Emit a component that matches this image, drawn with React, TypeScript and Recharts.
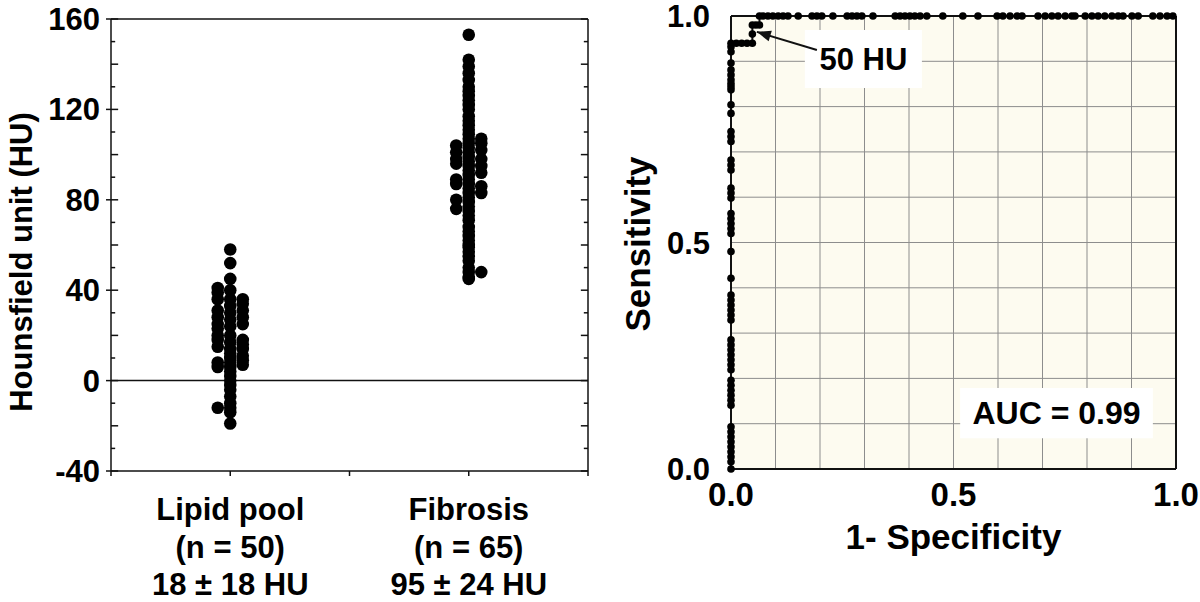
import React from 'react';
import {
  ScatterChart,
  Scatter,
  LineChart,
  Line,
  XAxis,
  YAxis,
  CartesianGrid,
  ReferenceLine,
  ReferenceArea,
  ReferenceDot,
} from 'recharts';

const FONT = '"Liberation Sans", Arial, Helvetica, sans-serif';
const INK = '#111';

// ---- left panel: CT numbers of lipid pool vs fibrosis ----
const groupPositions = [1, 3];
const groupNames = ['Lipid pool', 'Fibrosis'];
const groupCounts = ['(n = 50)', '(n = 65)'];
const groupMeans = ['18 ± 18 HU', '95 ± 24 HU'];
const groupAxisTicks = [0, 1, 2, 3, 4];

// each strip is drawn as a middle column plus a column on either side
const lipidMid = [58, 52, 45, 40, 36, 33, 30, 27, 24, 20, 17, 14, 12, 10, 8, 6, 4, 2, 0, -2, -4, -7, -10, -12, -14, -19];
const lipidLeft = [41, 39, 36, 31, 28, 25, 23, 20, 18, 15, 8, 6, -12];
const lipidRight = [36, 34, 31, 28, 25, 18, 16, 14, 11, 9, 7];

const fibrosisMid = [
  153, 142, 139, 136, 133, 130, 128, 126, 124, 122, 120, 117, 115, 113, 111, 109,
  107, 105, 103, 101, 99, 97, 95, 93, 91, 89, 87, 85, 83, 81, 79, 77,
  75, 73, 71, 68, 66, 64, 62, 60, 59, 57, 55, 53, 50, 48, 46, 45,
];
const fibrosisLeft = [104, 101, 98, 96, 89, 87, 80, 76];
const fibrosisRight = [107, 105, 102, 98, 95, 92, 86, 83, 48];

const huTicks = [-40, 0, 40, 80, 120, 160];
const huMinorTicks = [-30, -20, -10, 10, 20, 30, 50, 60, 70, 90, 100, 110, 130, 140, 150, -40, 0, 40, 80, 120, 160];

const STRIP_SHIFT = 0.105;

const column = (values: number[], x: number) => values.map((hu) => ({ x, hu }));

const lipidData = [
  ...column(lipidMid, groupPositions[0]),
  ...column(lipidLeft, groupPositions[0] - STRIP_SHIFT),
  ...column(lipidRight, groupPositions[0] + STRIP_SHIFT),
];
const fibrosisData = [
  ...column(fibrosisMid, groupPositions[1]),
  ...column(fibrosisLeft, groupPositions[1] - STRIP_SHIFT),
  ...column(fibrosisRight, groupPositions[1] + STRIP_SHIFT),
];

// ---- right panel: ROC curve ----
const rocEdgeTpr = [
  0, 0.016, 0.027, 0.038, 0.049, 0.06, 0.071, 0.082, 0.093, 0.141, 0.152, 0.163, 0.174, 0.185,
  0.196, 0.219, 0.23, 0.241, 0.252, 0.263, 0.274, 0.285, 0.329, 0.34, 0.351, 0.362, 0.373, 0.384,
  0.421, 0.48, 0.52, 0.531, 0.542, 0.553, 0.564, 0.598, 0.609, 0.62, 0.66, 0.671, 0.682, 0.723,
  0.734, 0.745, 0.785, 0.804, 0.837, 0.844, 0.851, 0.859, 0.87, 0.881, 0.896, 0.921, 0.932, 0.94,
];
const rocStepFpr = [0.012, 0.024, 0.036, 0.048, 0.048, 0.048, 0.056, 0.064];
const rocStepTpr = [0.94, 0.94, 0.94, 0.94, 0.96, 0.98, 0.98, 0.98];
const rocTopFpr = [
  0.064, 0.072, 0.083, 0.094, 0.106, 0.117, 0.128, 0.151, 0.182, 0.193, 0.204, 0.229, 0.261,
  0.272, 0.283, 0.294, 0.319, 0.369, 0.38, 0.391, 0.402, 0.413, 0.425, 0.44, 0.476, 0.521, 0.555,
  0.598, 0.611, 0.627, 0.643, 0.654, 0.69, 0.706, 0.721, 0.735, 0.751, 0.766, 0.773, 0.796,
  0.811, 0.825, 0.84, 0.856, 0.87, 0.881, 0.901, 0.915, 0.948, 0.964, 0.98, 0.993,
];

const rocData = [
  ...rocEdgeTpr.map((tpr) => ({ fpr: 0, tpr })),
  ...rocStepFpr.map((fpr, i) => ({ fpr, tpr: rocStepTpr[i] })),
  ...rocTopFpr.map((fpr) => ({ fpr, tpr: 1 })),
];

const rateTicks = [0, 0.1, 0.2, 0.3, 0.4, 0.5, 0.6, 0.7, 0.8, 0.9, 1];
const rateLabelTicks = [0, 0.5, 1];
const fmtRate = (v: number) => (rateLabelTicks.includes(v) ? v.toFixed(1) : '');

const cutoffText = '50 HU';
const aucText = 'AUC = 0.99';
const cutoffPoint = { x: 0.058, y: 0.965 };
const cutoffTail = { x: 0.193, y: 0.925 };

const boldText = { fill: '#000', fontWeight: 700, fontFamily: FONT };

const dotShape = (p: any) => <circle cx={p.cx} cy={p.cy} r={6.3} fill="#000" />;

const renderGroupTick = (props: any) => {
  const { x, y, payload } = props;
  const i = groupPositions.indexOf(payload.value);
  if (i < 0) return <g />;
  const lines = [groupNames[i], groupCounts[i], groupMeans[i]];
  return (
    <g>
      {lines.map((t, k) => (
        <text key={k} x={x} y={y + 44 + k * 37.5} textAnchor="middle" fontSize={31} {...boldText}>
          {t}
        </text>
      ))}
    </g>
  );
};

// arrow head pointing from the label toward the 50 HU point
const arrowHead = (p: any) => (
  <polygon
    points="0,0 -14,-5.5 -14,5.5"
    fill={INK}
    transform={`translate(${p.cx},${p.cy}) rotate(196.8)`}
  />
);

const tickLen = (v: number) => (v % 20 === 0 ? 0.06 : 0.035);

export default function App() {
  return (
    <div style={{ position: 'absolute', left: 0, top: 0, width: 1200, height: 602, background: '#fff', fontFamily: FONT }}>
      <div style={{ position: 'absolute', left: 0, top: 0 }}>
        <ScatterChart width={600} height={602} margin={{ top: 19, right: 12, bottom: 0, left: 0 }}>
          <XAxis
            dataKey="x"
            type="number"
            domain={[0, 4]}
            ticks={groupAxisTicks}
            interval={0}
            height={131}
            tickSize={5}
            tickMargin={0}
            tick={renderGroupTick}
            axisLine={{ stroke: INK, strokeWidth: 1.5 }}
            tickLine={{ stroke: INK, strokeWidth: 1.5 }}
          />
          <YAxis
            dataKey="hu"
            type="number"
            domain={[-40, 160]}
            ticks={huTicks}
            interval={0}
            width={111}
            tickSize={5}
            tickMargin={6}
            tick={{ fontSize: 31, ...boldText }}
            axisLine={{ stroke: INK, strokeWidth: 1.5 }}
            tickLine={{ stroke: INK, strokeWidth: 1.5 }}
            label={{
              content: () => (
                <text
                  x={21}
                  y={262}
                  transform="rotate(-90 21 262)"
                  textAnchor="middle"
                  dominantBaseline="central"
                  fontSize={31}
                  {...boldText}
                >
                  Hounsfield unit (HU)
                </text>
              ),
            }}
          />
          <ReferenceLine y={0} stroke={INK} strokeWidth={1.5} />
          <ReferenceLine y={160} stroke={INK} strokeWidth={1.5} />
          <ReferenceLine x={4} stroke={INK} strokeWidth={1.5} />
          {huMinorTicks.map((v) => (
            <ReferenceLine
              key={'l' + v}
              segment={[{ x: 0, y: v }, { x: tickLen(v), y: v }]}
              stroke={INK}
              strokeWidth={1.5}
            />
          ))}
          {huMinorTicks.map((v) => (
            <ReferenceLine
              key={'r' + v}
              segment={[{ x: 4 - tickLen(v), y: v }, { x: 4, y: v }]}
              stroke={INK}
              strokeWidth={1.5}
            />
          ))}
          <Scatter data={lipidData} shape={dotShape} isAnimationActive={false} />
          <Scatter data={fibrosisData} shape={dotShape} isAnimationActive={false} />
        </ScatterChart>
      </div>
      <div style={{ position: 'absolute', left: 600, top: 0 }}>
        <LineChart width={600} height={602} data={rocData} margin={{ top: 16, right: 24, bottom: 0, left: 0 }}>
          <CartesianGrid stroke="#8d8d8d" strokeWidth={1} fill="#fdfbf0" fillOpacity={1} />
          <XAxis
            dataKey="fpr"
            type="number"
            domain={[0, 1]}
            ticks={rateTicks}
            interval={0}
            tickFormatter={fmtRate}
            height={133}
            tickLine={false}
            tickSize={0}
            tickMargin={14}
            tick={{ fontSize: 33, ...boldText }}
            axisLine={{ stroke: INK, strokeWidth: 2 }}
            label={{
              content: () => (
                <text x={353.5} y={549} textAnchor="middle" fontSize={35} {...boldText}>
                  1- Specificity
                </text>
              ),
            }}
          />
          <YAxis
            type="number"
            domain={[0, 1]}
            ticks={rateTicks}
            interval={0}
            tickFormatter={fmtRate}
            width={131}
            tickLine={false}
            tickSize={0}
            tickMargin={21}
            tick={{ fontSize: 31, ...boldText }}
            axisLine={{ stroke: INK, strokeWidth: 2 }}
            label={{
              content: () => (
                <text
                  x={37}
                  y={244}
                  transform="rotate(-90 37 244)"
                  textAnchor="middle"
                  dominantBaseline="central"
                  fontSize={35}
                  {...boldText}
                >
                  Sensitivity
                </text>
              ),
            }}
          />
          <ReferenceLine x={1} stroke={INK} strokeWidth={2} />
          <ReferenceLine y={1} stroke={INK} strokeWidth={2} />
          <ReferenceArea
            x1={0.166}
            x2={0.429}
            y1={0.841}
            y2={0.969}
            fill="#fff"
            fillOpacity={1}
            stroke="none"
            label={{ value: cutoffText, position: 'center', fontSize: 31, ...boldText }}
          />
          <ReferenceArea
            x1={0.515}
            x2={0.948}
            y1={0.068}
            y2={0.179}
            fill="#fff"
            fillOpacity={1}
            stroke="none"
            label={{ value: aucText, position: 'center', fontSize: 32, ...boldText }}
          />
          <ReferenceLine segment={[cutoffTail, cutoffPoint]} stroke={INK} strokeWidth={2} />
          <ReferenceDot x={cutoffPoint.x} y={cutoffPoint.y} shape={arrowHead} />
          <Line
            dataKey="tpr"
            type="linear"
            stroke={INK}
            strokeWidth={2}
            dot={{ r: 3.8, fill: '#000', stroke: 'none' }}
            isAnimationActive={false}
          />
        </LineChart>
      </div>
    </div>
  );
}
